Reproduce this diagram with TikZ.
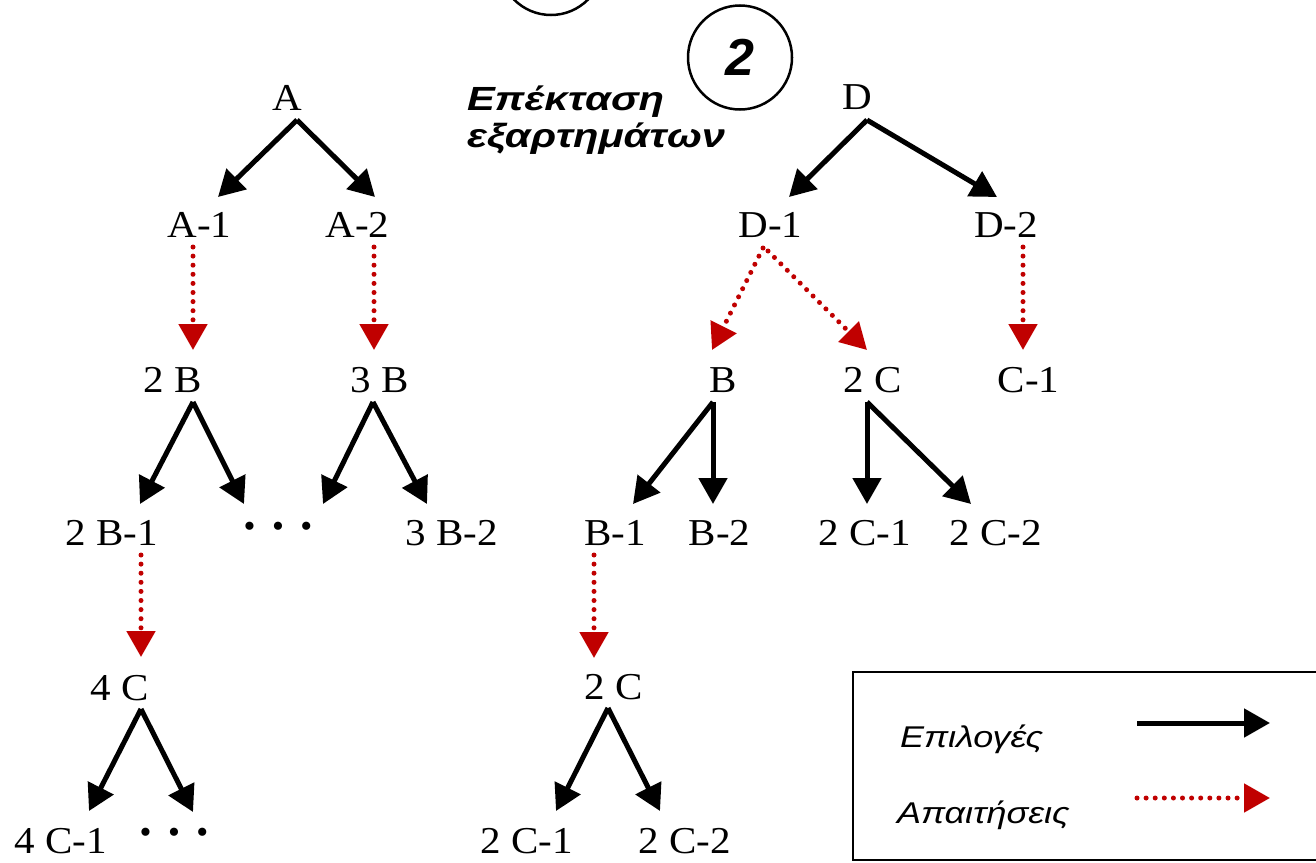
\documentclass[tikz,border=0pt]{standalone}
\usepackage{fontspec}
\setmainfont{Liberation Serif}
\newfontfamily\gsans{Liberation Sans}
\usetikzlibrary{arrows.meta,calc}
\definecolor{reqred}{HTML}{C00000}
\begin{document}
\begin{tikzpicture}[x=1pt,y=-1pt,
  lbl/.style={inner sep=0pt, outer sep=0pt, anchor=base, xscale=1.08, font=\fontsize{38}{45}\selectfont},
  dotsbox/.style={inner sep=0pt, outer sep=0pt, anchor=base, font=\fontsize{34}{40}\selectfont},
  choice/.style={line width=5pt, -{Triangle[length=26pt,width=28pt]}},
  req/.style={reqred, line width=5pt, line cap=round, dash pattern=on 0pt off 9.1pt, -{Triangle[length=26pt,width=28pt]}},
  gtitle/.style={inner sep=0pt, outer sep=0pt, anchor=base west, xscale=1.245, font=\gsans\bfseries\itshape\fontsize{33.5}{40}\selectfont},
  glegend/.style={inner sep=0pt, outer sep=0pt, anchor=base west, xscale=1.2, font=\gsans\itshape\fontsize{30}{36}\selectfont},
  ring/.style={line width=2.5pt}
]
\useasboundingbox (0,0) rectangle (1316,862);

% circles
\draw[ring] (551,-37) circle [radius=52];
\draw[ring] (740,57.5) circle [radius=52];
\node[inner sep=0pt, anchor=base, font=\gsans\bfseries\itshape\fontsize{52}{60}\selectfont] (two) at (740,75) {2};

% title
\node[gtitle] (t1) at (467,110) {Επέκταση};
\node[gtitle] (t2) at (467,147) {εξαρτημάτων};

% left tree
\node[lbl] (A) at (287,110) {A};
\node[lbl] (A1) at (199.5,237) {A-1};
\node[lbl] (A2) at (357.5,237) {A-2};
\node[lbl] (B2) at (172.5,392) {2 B};
\node[lbl] (B3) at (380,392) {3 B};
\node[lbl] (B21) at (111.5,545) {2 B-1};
\node[dotsbox] (dotsL) at (278,537) {•\hspace{16.5pt}•\hspace{16.5pt}•};
\node[lbl] (B32) at (452,545) {3 B-2};
\node[lbl] (C4) at (120,700) {4 C};
\node[lbl] (C41) at (61,853) {4 C-1};
\node[dotsbox] (dotsL2) at (174,843) {•\hspace{16.5pt}•\hspace{16.5pt}•};

% right tree
\node[lbl] (D) at (857,109) {D};
\node[lbl] (D1) at (770.5,237) {D-1};
\node[lbl] (D2) at (1006,237) {D-2};
\node[lbl] (B) at (723.5,392) {B};
\node[lbl] (C2) at (872.5,392) {2 C};
\node[lbl] (C1) at (1028.5,392) {C-1};
\node[lbl] (B1) at (615,545) {B-1};
\node[lbl] (Bb2) at (719.5,545) {B-2};
\node[lbl] (C21) at (865,545) {2 C-1};
\node[lbl] (C22) at (996,545) {2 C-2};
\node[lbl] (C2L) at (614,699) {2 C};
\node[lbl] (C21L) at (526.5,853) {2 C-1};
\node[lbl] (C22L) at (685,853) {2 C-2};

% choice arrows
\draw[choice] ($(A.base)+(10,10)$) -- ($(A1.base)+(18.5,-40)$);
\draw[choice] ($(A.base)+(10,10)$) -- ($(A2.base)+(17.5,-40)$);
\draw[choice] ($(B2.base)+(20.5,10)$) -- ($(B21.base)+(28.5,-41)$);
\draw[choice] ($(B2.base)+(20.5,10)$) -- ($(dotsL.base)+(-34,-33)$);
\draw[choice] ($(B3.base)+(-7,10)$) -- ($(dotsL.base)+(45,-33)$);
\draw[choice] ($(B3.base)+(-7,10)$) -- ($(B32.base)+(-25,-41)$);
\draw[choice] ($(C4.base)+(21,9)$) -- ($(C41.base)+(28,-42)$);
\draw[choice] ($(C4.base)+(21,9)$) -- ($(dotsL2.base)+(19,-31)$);
\draw[choice] ($(D.base)+(10,11)$) -- ($(D1.base)+(18.5,-40)$);
\draw[choice] ($(D.base)+(10,11)$) -- ($(D2.base)+(-9,-40)$);
\draw[choice] ($(B.base)+(-10.5,10)$) -- ($(B1.base)+(18,-41)$);
\draw[choice] ($(B.base)+(-10.5,10)$) -- ($(Bb2.base)+(-6.5,-41)$);
\draw[choice] ($(C2.base)+(-5.5,10)$) -- ($(C21.base)+(2,-41)$);
\draw[choice] ($(C2.base)+(-5.5,10)$) -- ($(C22.base)+(-25,-41)$);
\draw[choice] ($(C2L.base)+(-6,9)$) -- ($(C21L.base)+(29.5,-42)$);
\draw[choice] ($(C2L.base)+(-6,9)$) -- ($(C22L.base)+(-25,-42)$);

% requirement arrows
\draw[req] ($(A1.base)+(-6.5,10)$) -- ($(B2.base)+(20.5,-42)$);
\draw[req] ($(A2.base)+(16.5,10)$) -- ($(B3.base)+(-6,-42)$);
\draw[req] ($(B21.base)+(29.5,10)$) -- ($(C4.base)+(21,-43)$);
\draw[req] ($(D1.base)+(-7.5,11)$) -- ($(B.base)+(-11.5,-42)$);
\draw[req] ($(D1.base)+(-2.5,14)$) -- ($(C2.base)+(-5.5,-42)$);
\draw[req] ($(D2.base)+(17,10)$) -- ($(C1.base)+(-5.5,-42)$);
\draw[req] ($(B1.base)+(-21,10)$) -- ($(C2L.base)+(-20,-41)$);

% legend
\draw[line width=2.5pt] (853,672) rectangle (1330,860);
\node[glegend] (legC) at (900,747) {Επιλογές};
\node[glegend] (legR) at (897,823) {Απαιτήσεις};
\coordinate (lc1) at (1137,723);
\coordinate (lc2) at (1270,723);
\coordinate (lr1) at (1137,798);
\coordinate (lr2) at (1270,798);
\draw[choice] (lc1) -- (lc2);
\draw[req] (lr1) -- (lr2);
\end{tikzpicture}
\end{document}
